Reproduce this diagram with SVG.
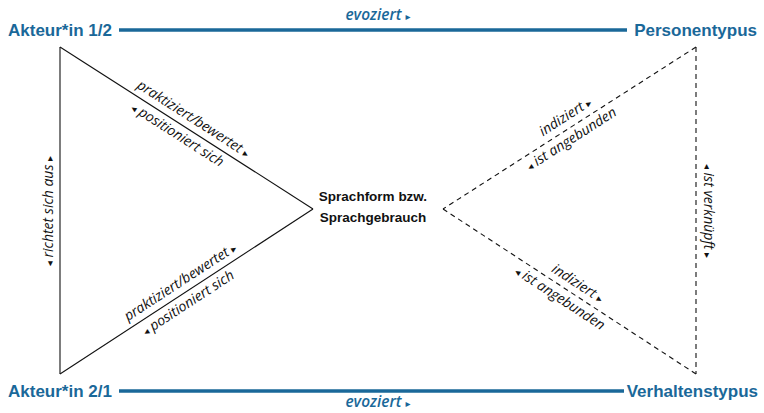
<svg xmlns="http://www.w3.org/2000/svg" width="764" height="413" viewBox="0 0 764 413">
<style>
.bg{fill:#ffffff}
.blue{fill:#1a6899;font-family:"Liberation Sans",Arial,sans-serif;font-weight:700;font-size:17px}
.evo{fill:#1a6899;font-family:"Open Sans","Liberation Sans",sans-serif;font-style:italic;font-weight:600;font-size:15.5px}
.ctr{fill:#111111;font-family:"Liberation Sans",Arial,sans-serif;font-weight:700;font-size:13.5px}
.lbl{fill:#111111;font-family:"Open Sans","Liberation Sans",sans-serif;font-style:italic;font-size:14px}
.arr{font-family:"DejaVu Sans",sans-serif;font-style:normal;font-size:10px}
.bline{stroke:#1a6899;stroke-width:3.5;fill:none}
.solid{stroke:#111111;stroke-width:1.1;fill:none}
.dash{stroke:#111111;stroke-width:1.1;fill:none;stroke-dasharray:5 4}
</style>
<rect class="bg" x="0" y="0" width="764" height="413"/>
<g id="connectors">
  <line class="bline" x1="119" y1="30" x2="627" y2="30"/>
  <line class="bline" x1="119" y1="391" x2="624" y2="391"/>
  <line class="solid" x1="60" y1="47" x2="60" y2="374"/>
  <line class="solid" x1="60" y1="47" x2="313" y2="209"/>
  <line class="solid" x1="60" y1="374" x2="313" y2="209"/>
  <line class="dash" x1="696" y1="47" x2="696" y2="374"/>
  <line class="dash" x1="696" y1="47" x2="443" y2="209"/>
  <line class="dash" x1="696" y1="374" x2="443" y2="209"/>
  <text class="evo" x="378" y="20" text-anchor="middle">evoziert <tspan class="arr">▸</tspan></text>
  <text class="evo" x="378" y="407" text-anchor="middle">evoziert <tspan class="arr">▸</tspan></text>
  <g transform="translate(186.5,128) rotate(32.63)">
    <text class="lbl" x="1" y="-7" text-anchor="middle">praktiziert/bewertet <tspan class="arr">▸</tspan></text>
    <text class="lbl" x="-4" y="15" text-anchor="middle"><tspan class="arr">◂</tspan> positioniert sich</text>
  </g>
  <g transform="translate(186.5,291.5) rotate(-33.11)">
    <text class="lbl" x="0" y="-7" text-anchor="middle">praktiziert/bewertet <tspan class="arr">▸</tspan></text>
    <text class="lbl" x="-5" y="15" text-anchor="middle"><tspan class="arr">◂</tspan> positioniert sich</text>
  </g>
  <g transform="translate(569,128) rotate(-32.74)">
    <text class="lbl" x="3" y="-7" text-anchor="middle">indiziert <tspan class="arr">▸</tspan></text>
    <text class="lbl" x="-4" y="15" text-anchor="middle"><tspan class="arr">◂</tspan> ist angebunden</text>
  </g>
  <g transform="translate(569,291.5) rotate(33.22)">
    <text class="lbl" x="3" y="-7" text-anchor="middle">indiziert <tspan class="arr">▸</tspan></text>
    <text class="lbl" x="-4" y="15" text-anchor="middle"><tspan class="arr">◂</tspan> ist angebunden</text>
  </g>
  <g transform="translate(53,211) rotate(-90)">
    <text class="lbl" x="0" y="0" text-anchor="middle"><tspan class="arr">◂</tspan> richtet sich aus <tspan class="arr">▸</tspan></text>
  </g>
  <g transform="translate(704,211) rotate(90)">
    <text class="lbl" x="0" y="0" text-anchor="middle"><tspan class="arr">◂</tspan> ist verknüpft <tspan class="arr">▸</tspan></text>
  </g>
</g>
<g id="akteur12"><text class="blue" x="8" y="36">Akteur*in 1/2</text></g>
<g id="personentypus"><text class="blue" x="757" y="36" text-anchor="end">Personentypus</text></g>
<g id="akteur21"><text class="blue" x="8" y="397">Akteur*in 2/1</text></g>
<g id="verhaltenstypus"><text class="blue" x="758" y="397" text-anchor="end">Verhaltenstypus</text></g>
<g id="sprachform">
  <text class="ctr" x="373" y="201" text-anchor="middle">Sprachform bzw.</text>
  <text class="ctr" x="373" y="222" text-anchor="middle">Sprachgebrauch</text>
</g>
</svg>
